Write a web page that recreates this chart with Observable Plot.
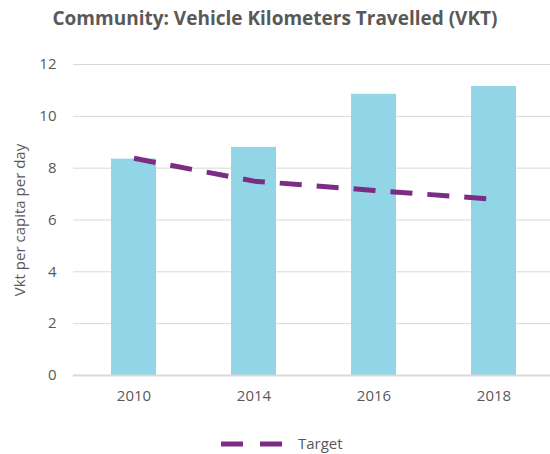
<!DOCTYPE html>
<html>
<head>
<meta charset="utf-8">
<script src="https://cdn.jsdelivr.net/npm/d3@7"></script>
<script src="https://cdn.jsdelivr.net/npm/@observablehq/plot@0.6"></script>
<style>
  html, body { margin: 0; padding: 0; background: #fff; overflow: hidden; }
  body { width: 550px; height: 454px; font-family: "Open Sans", sans-serif; }
  #title { height: 36px; line-height: 36px; text-align: center; font-size: 19px; font-weight: bold; color: #595959; }
  #legend { height: 39px; position: relative; font-size: 15px; color: #595959; }
</style>
</head>
<body>
<div id="title">Community: Vehicle Kilometers Travelled (VKT)</div>
<div id="chart"></div>
<div id="legend">
  <svg width="550" height="39" style="position:absolute;left:0;top:0">
    <line x1="221" x2="282" y1="29" y2="29" stroke="#7B2C83" stroke-width="5" stroke-dasharray="22,17"></line>
    <text x="298" y="29" dy="0.35em" fill="#595959" font-size="15" font-family="Open Sans, sans-serif">Target</text>
  </svg>
</div>
<script>
const years = ["2010", "2014", "2016", "2018"];
const vkt = [8.35, 8.8, 10.85, 11.15];
const target = [8.38, 7.5, 7.14, 6.8];
const yTicks = [0, 2, 4, 6, 8, 10, 12];

const data = years.map((y, i) => ({year: y, vkt: vkt[i], target: target[i]}));

const chart = Plot.plot({
  width: 550,
  height: 379,
  marginTop: 28,
  marginBottom: 40,
  marginLeft: 73,
  marginRight: 0,
  style: {fontFamily: "Open Sans, sans-serif", fontSize: "15px", color: "#595959", background: "#fff"},
  x: {domain: years, range: [73, 553], paddingInner: 0.625, paddingOuter: 0.3125, label: null},
  y: {domain: [0, 12], label: null},
  marks: [
    Plot.ruleY(yTicks.filter(d => d > 0), {stroke: "#d9d9d9", strokeWidth: 1}),
    Plot.barY(data, {x: "year", y: "vkt", fill: "#92D5E6"}),
    Plot.ruleY([0], {stroke: "#d9d9d9", strokeWidth: 2}),
    Plot.line(data, {x: "year", y: "target", stroke: "#7B2C83", strokeWidth: 5, strokeDasharray: "22,15", strokeLinecap: "butt"}),
    Plot.axisY({ticks: yTicks, tickSize: 0, tickPadding: 17, label: null, fill: "#595959", fontSize: 15}),
    Plot.axisX({tickSize: 0, tickPadding: 15, label: null, fill: "#595959", fontSize: 15}),
    Plot.text(["Vkt per capita per day"], {frameAnchor: "left", text: d => d, rotate: -90, dx: -53, textAnchor: "middle", fill: "#595959", fontSize: 15})
  ]
});
document.getElementById("chart").appendChild(chart);
</script>
</body>
</html>
